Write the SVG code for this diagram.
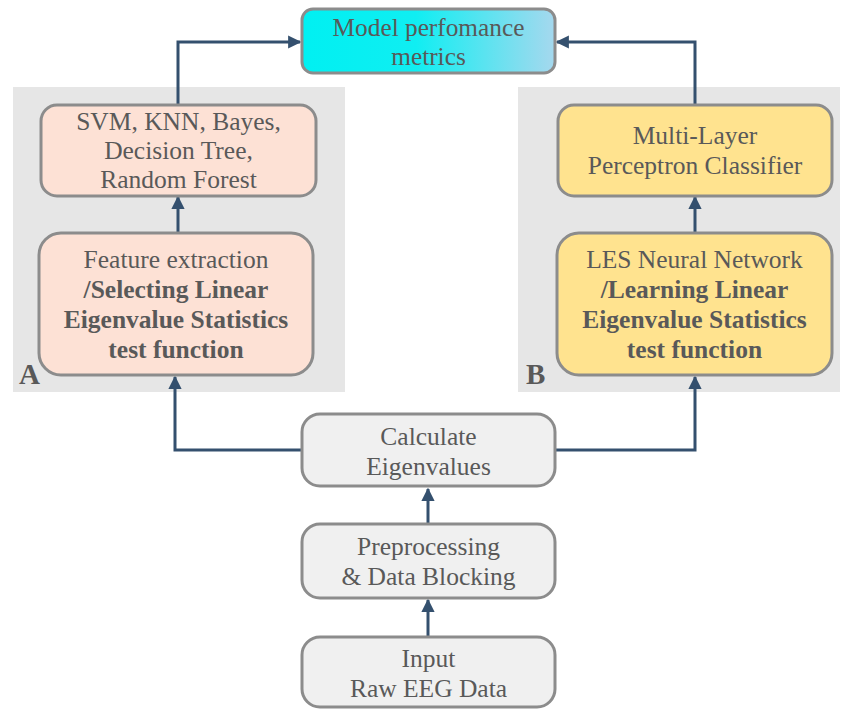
<svg xmlns="http://www.w3.org/2000/svg" width="841" height="709" viewBox="0 0 841 709">
<defs>
<linearGradient id="gCyan" x1="0" y1="0" x2="1" y2="0">
<stop offset="0" stop-color="#00f0f2"/>
<stop offset="0.45" stop-color="#10eef2"/>
<stop offset="1" stop-color="#a6d8ee"/>
</linearGradient>
<marker id="arr" viewBox="0 0 10 10" refX="9" refY="5" markerWidth="4.4" markerHeight="4.4" orient="auto" markerUnits="strokeWidth">
<path d="M0,0 L10,5 L0,10 Z" fill="#34506e"/>
</marker>
<style>
.panel{fill:#e6e6e6}
.box{stroke:#8c8c8c;stroke-width:3}
.gray{fill:#f0f0f0}
.peach{fill:#fde1d5}
.yellow{fill:#ffe38f}
.t{font-family:"Liberation Serif","Times New Roman",serif;font-size:25.5px;fill:#595959;text-anchor:middle}
.b{font-weight:bold}
.lab{font-family:"Liberation Serif","Times New Roman",serif;font-size:29px;font-weight:bold;fill:#595959}
.c{fill:none;stroke:#34506e;stroke-width:3}
</style>
</defs>
<rect width="841" height="709" fill="#ffffff"/>
<g id="panelA"><rect class="panel" x="13" y="87" width="332" height="305"/><text class="lab" x="19" y="384">A</text></g>
<g id="panelB"><rect class="panel" x="518" y="87" width="322" height="305"/><text class="lab" x="526" y="384">B</text></g>
<g id="connectors">
<path class="c" d="M178,104 V42 H300" marker-end="url(#arr)"/>
<path class="c" d="M695,104 V42 H557" marker-end="url(#arr)"/>
<path class="c" d="M178,232 V197" marker-end="url(#arr)"/>
<path class="c" d="M695,232 V197" marker-end="url(#arr)"/>
<path class="c" d="M302,450 H175 V377" marker-end="url(#arr)"/>
<path class="c" d="M555,450 H695 V377" marker-end="url(#arr)"/>
<path class="c" d="M428,524 V489" marker-end="url(#arr)"/>
<path class="c" d="M428,636 V600" marker-end="url(#arr)"/>
</g>
<g id="metrics"><rect class="box" x="302" y="9" width="253" height="64" rx="11" fill="url(#gCyan)"/>
<text class="t" x="428.5" y="36" style="font-size:25.3px">Model perfomance</text><text class="t" x="428.5" y="65" style="font-size:25.3px">metrics</text></g>
<g id="classic"><rect class="box peach" x="41" y="105" width="275" height="91" rx="16"/>
<text class="t" x="178.5" y="130">SVM, KNN, Bayes,</text><text class="t" x="178.5" y="159">Decision Tree,</text><text class="t" x="178.5" y="188">Random Forest</text></g>
<g id="feature"><rect class="box peach" x="39" y="233" width="274" height="142" rx="22"/>
<text class="t" x="176" y="268">Feature extraction</text><text class="t b" x="176" y="298">/Selecting Linear</text><text class="t b" x="176" y="328">Eigenvalue Statistics</text><text class="t b" x="176" y="358">test function</text></g>
<g id="mlp"><rect class="box yellow" x="558" y="105" width="274" height="91" rx="16"/>
<text class="t" x="695" y="144">Multi-Layer</text><text class="t" x="695" y="174">Perceptron Classifier</text></g>
<g id="les"><rect class="box yellow" x="557" y="233" width="275" height="142" rx="22"/>
<text class="t" x="694.5" y="268">LES Neural Network</text><text class="t b" x="694.5" y="298">/Learning Linear</text><text class="t b" x="694.5" y="328">Eigenvalue Statistics</text><text class="t b" x="694.5" y="358">test function</text></g>
<g id="eigen"><rect class="box gray" x="302" y="414" width="253" height="72" rx="18"/>
<text class="t" x="428.5" y="445">Calculate</text><text class="t" x="428.5" y="475">Eigenvalues</text></g>
<g id="prep"><rect class="box gray" x="302" y="524" width="253" height="74" rx="18"/>
<text class="t" x="428.5" y="555">Preprocessing</text><text class="t" x="428.5" y="585">&amp; Data Blocking</text></g>
<g id="input"><rect class="box gray" x="302" y="637" width="253" height="70" rx="18"/>
<text class="t" x="428.5" y="667">Input</text><text class="t" x="428.5" y="697">Raw EEG Data</text></g>
</svg>
